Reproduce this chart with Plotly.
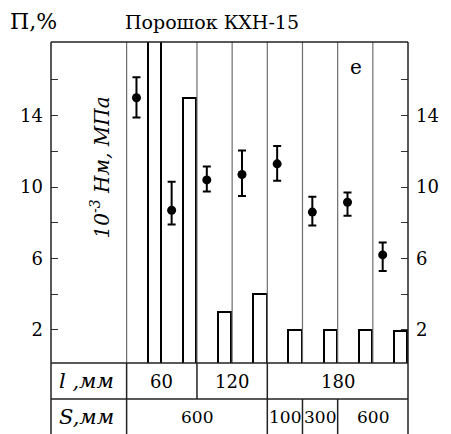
import plotly.graph_objects as go

# ---- data ----
l_mm = [60, 60, 120, 120, 180, 180, 180, 180]          # length l, mm
S_mm = [600, 600, 600, 600, 100, 300, 600, 600]        # distance S, mm
porosity = [18.5, 15.0, 3.0, 4.0, 2.0, 2.0, 2.0, 1.95]  # П, % (bars)
strength = [15.0, 8.7, 10.4, 10.7, 11.3, 8.6, 9.15, 6.2]  # 10^-3 Нм, МПа (points)
err_plus = [1.15, 1.6, 0.75, 1.35, 1.0, 0.85, 0.55, 0.7]
err_minus = [1.1, 0.8, 0.65, 1.2, 0.95, 0.75, 0.75, 0.9]
y_ticks = [2, 4, 6, 8, 10, 12, 14, 16]
y_tick_labels = ["2", "", "6", "", "10", "", "14", ""]
plot_dividers = [0, 2, 3, 4, 5, 6, 7]   # cell boundaries drawn inside the plot
title_text = "Порошок КХН-15"
left_title = "П,%"
y_title = "<i>10<sup>-3</sup> Нм, МПа</i>"
panel_label = "e"
row_labels = ["<i>l ,мм</i>", "<i>S,мм</i>"]

FONT = "DejaVu Serif"
n = len(l_mm)
idx = list(range(n))
bar_x = [i + 0.79 for i in idx]
pt_x = [i + 0.28 for i in idx]
X_MIN, X_MAX = -2.15, n
Y_RANGE = [0.15, 18.12]

W, H = 451, 434
ML, MR, MT, MB = 51, 32, 42, 71
PH = H - MT - MB


def py(pix):
    return (H - MB - pix) / PH


def spans(vals):
    out = []
    start = 0
    for i in range(1, len(vals) + 1):
        if i == len(vals) or vals[i] != vals[start]:
            out.append((start, i, vals[start]))
            start = i
    return out


fig = go.Figure()
fig.add_bar(x=bar_x, y=porosity, width=0.38,
            marker=dict(color="white", line=dict(color="black", width=2)),
            hoverinfo="skip")
fig.add_scatter(x=pt_x, y=strength, mode="markers",
                marker=dict(color="black", size=9),
                error_y=dict(type="data", symmetric=False, array=err_plus,
                             arrayminus=err_minus, color="black",
                             thickness=2, width=4))
fig.add_scatter(x=[None], y=[None], yaxis="y2", showlegend=False)

shapes = []
grid = dict(color="#6e6e6e", width=1.2)
frame = dict(color="#222", width=1.5)
for d in plot_dividers:
    shapes.append(dict(type="line", xref="x", yref="paper", x0=d, x1=d,
                       y0=0, y1=1, line=grid))
# outer frame + table
y_bottom = py(H + 5)
y_div = py(399)
shapes += [
    dict(type="line", xref="paper", yref="paper", x0=0, x1=1, y0=1, y1=1, line=frame),
    dict(type="line", xref="paper", yref="paper", x0=0, x1=1, y0=0, y1=0, line=frame),
    dict(type="line", xref="paper", yref="paper", x0=0, x1=1, y0=y_div, y1=y_div, line=frame),
    dict(type="line", xref="paper", yref="paper", x0=0, x1=0, y0=y_bottom, y1=1, line=frame),
    dict(type="line", xref="paper", yref="paper", x0=1, x1=1, y0=y_bottom, y1=1, line=frame),
]
annotations = []
row_y = [py(381), py(416.5)]
row_bounds = [(0, y_div), (y_div, y_bottom)]
row_font = [18, 17]
for r, vals in enumerate([l_mm, S_mm]):
    y0, y1 = row_bounds[r]
    shapes.append(dict(type="line", xref="x", yref="paper", x0=0, x1=0,
                       y0=y1, y1=y0, line=frame))
    for s, e, v in spans(vals):
        if s > 0:
            shapes.append(dict(type="line", xref="x", yref="paper", x0=s, x1=s,
                               y0=y1, y1=y0, line=frame))
        annotations.append(dict(x=(s + e) / 2, y=row_y[r], xref="x", yref="paper",
                                text=str(v), showarrow=False, xanchor="center",
                                yanchor="middle",
                                font=dict(family=FONT, size=row_font[r], color="black")))
    annotations.append(dict(x=(88 - ML) / (W - ML - MR), y=row_y[r], xref="paper",
                            yref="paper", text=row_labels[r], showarrow=False,
                            xanchor="center", yanchor="middle",
                            font=dict(family=FONT, size=21, color="black")))

annotations += [
    dict(x=(216.5 - ML) / (W - ML - MR), y=py(21.5), xref="paper", yref="paper",
         text=title_text, showarrow=False, xanchor="center", yanchor="middle",
         font=dict(family=FONT, size=19, color="black")),
    dict(x=(33 - ML) / (W - ML - MR), y=py(22), xref="paper", yref="paper",
         text=left_title, showarrow=False, xanchor="center", yanchor="middle",
         font=dict(family=FONT, size=22, color="black")),
    dict(x=(102 - ML) / (W - ML - MR), y=py(167), xref="paper", yref="paper",
         text=y_title, showarrow=False, textangle=-90, xanchor="center",
         yanchor="middle", font=dict(family=FONT, size=20, color="black")),
    dict(x=(365 - ML) / (W - ML - MR), y=py(67), xref="paper", yref="paper",
         text=panel_label, showarrow=False, xanchor="center", yanchor="middle",
         font=dict(family=FONT, size=20, color="black")),
]

yax = dict(range=Y_RANGE, tickmode="array", tickvals=y_ticks, ticktext=y_tick_labels,
           ticks="inside", ticklen=7, tickwidth=1.2, tickcolor="#333",
           showgrid=False, zeroline=False, showline=False,
           tickfont=dict(family=FONT, size=18, color="black"),
           ticklabelstandoff=7)
fig.update_layout(
    width=W, height=H,
    margin=dict(l=ML, r=MR, t=MT, b=MB, pad=0),
    plot_bgcolor="white", paper_bgcolor="white",
    showlegend=False,
    xaxis=dict(range=[X_MIN, X_MAX], showticklabels=False, ticks="",
               showgrid=False, zeroline=False, showline=False),
    yaxis=yax,
    yaxis2=dict(yax, overlaying="y", side="right"),
    shapes=shapes,
    annotations=annotations,
    bargap=0,
)
fig.write_html("out.html")
